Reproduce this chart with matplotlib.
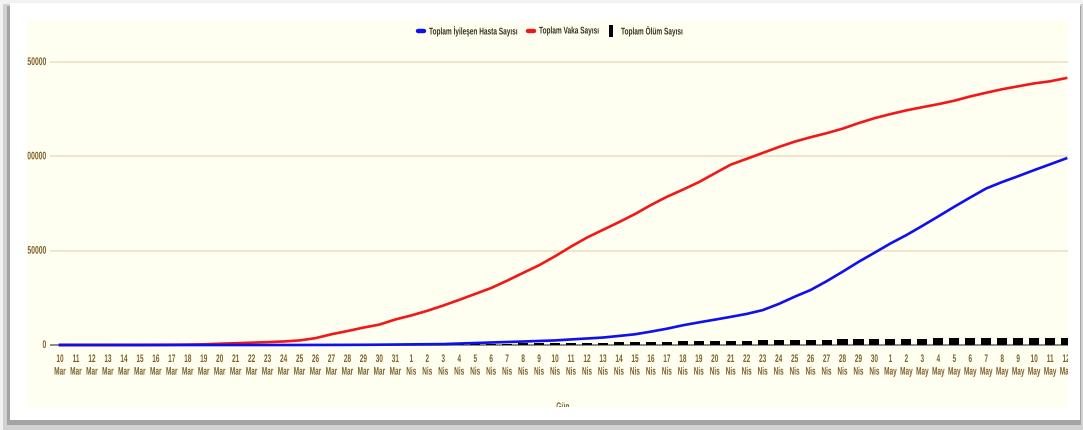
import matplotlib
matplotlib.use("Agg")
import matplotlib.pyplot as plt
from matplotlib.patches import Rectangle
from matplotlib.lines import Line2D
from matplotlib.patheffects import AbstractPathEffect
from matplotlib.transforms import Affine2D, Bbox
from matplotlib.text import Text

# ---------------- data ----------------
days = list(range(10, 32)) + list(range(1, 31)) + list(range(1, 13))
months = ["Mar"] * 22 + ["Nis"] * 30 + ["May"] * 12

total_cases = [0, 1, 1, 5, 6, 18, 47, 98, 191, 359, 670, 947, 1236, 1529, 1872, 2433,
               3629, 5698, 7402, 9217, 10827, 13531,
               15679, 18135, 20921, 23934, 27069, 30217, 34109, 38226, 42282, 47029,
               52167, 56956, 61049, 65111, 69392, 74193, 78546, 82329, 86306, 90980,
               95591, 98674, 101790, 104912, 107773, 110130, 112261, 114653, 117589, 120204,
               122392, 124375, 126045, 127659, 129491, 131744, 133721, 135569, 137115, 138657,
               139771, 141475]
total_recovered = [0, 0, 0, 0, 0, 0, 0, 0, 0, 0, 0, 0, 0, 0, 0, 0,
                   26, 42, 70, 105, 162, 243,
                   333, 415, 484, 786, 1042, 1326, 1582, 1846, 2142, 2423,
                   2965, 3446, 3957, 4799, 5674, 7089, 8631, 10453, 11976, 13430,
                   14918, 16477, 18491, 21737, 25582, 29140, 33791, 38809, 44040, 48886,
                   53808, 58259, 63151, 68166, 73285, 78202, 82984, 86396, 89480, 92691,
                   95780, 98889]
total_deaths = [0, 0, 0, 0, 0, 0, 0, 1, 2, 3, 4, 9, 30, 37, 44, 59,
                75, 92, 108, 131, 168, 214,
                277, 356, 425, 501, 574, 649, 725, 812, 908, 1006,
                1101, 1198, 1296, 1403, 1518, 1643, 1769, 1890, 2017, 2140,
                2259, 2376, 2491, 2600, 2706, 2805, 2900, 2992, 3081, 3174,
                3258, 3336, 3397, 3461, 3520, 3584, 3641, 3689, 3739, 3786,
                3841, 3894]
y_ticks = [0, 50000, 100000, 150000]
series_names = ["Toplam İyileşen Hasta Sayısı", "Toplam Vaka Sayısı", "Toplam Ölüm Sayısı"]
x_title = "Gün"

# ---------------- helpers ----------------
W, H = 1083, 430


def fx(px):
    return px / W


def fy(py):
    return 1 - py / H


class HSquash(AbstractPathEffect):
    """Horizontally condense glyphs (the source uses a very narrow font)."""

    def __init__(self, sx, anchor="center"):
        super().__init__()
        self.sx = sx
        self.anchor = anchor

    def draw_path(self, renderer, gc, tpath, affine, rgbFace=None):
        ext = tpath.get_extents(affine)
        if self.anchor == "center":
            cx = (ext.x0 + ext.x1) / 2
        elif self.anchor == "right":
            cx = ext.x1
        else:
            cx = ext.x0
        new = affine + Affine2D().translate(-cx, 0).scale(self.sx, 1).translate(cx, 0)
        renderer.draw_path(gc, tpath, new, rgbFace)


class CondensedText(Text):
    """Real text drawn horizontally condensed; reports its condensed extent."""

    def __init__(self, x, y, text, sx=0.6, anchor="center", **kw):
        super().__init__(x, y, text, **kw)
        self._sx = sx
        self._anchor = anchor
        self.set_path_effects([HSquash(sx, anchor)])

    def get_window_extent(self, renderer=None, dpi=None):
        bb = super().get_window_extent(renderer=renderer, dpi=dpi)
        if self._anchor == "center":
            cx = (bb.x0 + bb.x1) / 2
        elif self._anchor == "right":
            cx = bb.x1
        else:
            cx = bb.x0
        return Bbox([[cx + (bb.x0 - cx) * self._sx, bb.y0],
                     [cx + (bb.x1 - cx) * self._sx, bb.y1]])


FONT = "Liberation Sans"
TICK_COLOR = "#7e6128"
GRID_COLOR = "#ecdfc0"
CREAM = "#fefef1"

fig = plt.figure(figsize=(W / 100, H / 100), dpi=100, facecolor="#f2f2f2")

# screenshot frame: shadow, white card, cream chart area
fig.add_artist(Rectangle((fx(3), fy(430)), fx(1080), 426 / H, transform=fig.transFigure,
                         fc="#d2d2d2", ec="none", zorder=-10))
fig.add_artist(Rectangle((fx(7), fy(425)), fx(1074), 419 / H, transform=fig.transFigure,
                         fc="#a4a4a4", ec="none", zorder=-9))
fig.add_artist(Rectangle((fx(10), fy(420)), fx(1070), 417 / H, transform=fig.transFigure,
                         fc="white", ec="none", zorder=-8))
cream = Rectangle((fx(27), fy(407)), fx(1068 - 27), (407 - 20) / H, transform=fig.transFigure,
                  fc=CREAM, ec="none", zorder=-7)
fig.add_artist(cream)

# ---------------- axes ----------------
AX_L, AX_R, AX_T, AX_B = 50, 1068, 55, 348
ax = fig.add_axes([fx(AX_L), fy(AX_B), fx(AX_R - AX_L), (AX_B - AX_T) / H])
ax.patch.set_visible(False)
for s in ax.spines.values():
    s.set_visible(False)

x = list(range(len(days)))
ax.bar(x, total_deaths, width=0.63, color="black", zorder=2)
ax.plot(x, total_cases, color="#f01818", lw=1.9, zorder=3, solid_joinstyle="round")
ax.plot(x, total_recovered, color="#1010ee", lw=1.9, zorder=4, solid_joinstyle="round")

ax.set_xlim(-0.626, 63.12)
ax.set_ylim(-1590, 153710)

ax.set_xticks([])
ax.set_yticks(y_ticks)
ax.tick_params(axis="y", length=0, labelleft=False)
ax.yaxis.grid(True, color=GRID_COLOR, lw=1.1, zorder=0)
ax.set_axisbelow(True)
ax.get_ygridlines()[0].set_color("#6a6a6a")

# category labels (two lines: day / month)
lab_y = -(354.0 - AX_B) / (AX_B - AX_T)
for xi, d, m in zip(x, days, months):
    t = CondensedText(xi, lab_y, f"{d}\n{m}", sx=0.59, anchor="center",
                      transform=ax.get_xaxis_transform(), ha="center", va="top",
                      fontsize=7.9, color=TICK_COLOR, family=FONT, weight="bold",
                      linespacing=1.33)
    fig.add_artist(t)
    t.set_clip_path(cream)

# value labels
lab_x = -(AX_L - 46.5) / (AX_R - AX_L)
for v in y_ticks:
    t = CondensedText(lab_x, v, str(v), sx=0.62, anchor="right",
                      transform=ax.get_yaxis_transform(), ha="right", va="center",
                      fontsize=7.9, color=TICK_COLOR, family=FONT, weight="bold")
    fig.add_artist(t)
    t.set_clip_path(cream)

t = CondensedText(fx(563), fy(407), x_title, sx=0.6, anchor="center",
                  transform=fig.transFigure, ha="center", va="center", fontsize=7.9,
                  color=TICK_COLOR, family=FONT, weight="bold")
fig.add_artist(t)
t.set_clip_path(cream)

# ---------------- legend ----------------
LEG_Y = fy(30.5)
LEG_TXT = "#3a3018"
fig.add_artist(Line2D([fx(418), fx(424)], [LEG_Y, LEG_Y], color="#1010ee", lw=3.2,
                      solid_capstyle="round", transform=fig.transFigure))
fig.add_artist(Line2D([fx(528), fx(534)], [LEG_Y, LEG_Y], color="#f01818", lw=3.2,
                      solid_capstyle="round", transform=fig.transFigure))
fig.add_artist(Rectangle((fx(609), fy(37)), fx(4), 12 / H, transform=fig.transFigure,
                         fc="black", ec="none"))
for xpos, name in zip([429, 539, 621], series_names):
    tt = CondensedText(fx(xpos), LEG_Y, name, sx=0.67, anchor="left",
                       transform=fig.transFigure, ha="left", va="center", fontsize=7,
                       color=LEG_TXT, family=FONT, weight="bold")
    fig.add_artist(tt)

fig.savefig("out.png", dpi=100, facecolor=fig.get_facecolor())
